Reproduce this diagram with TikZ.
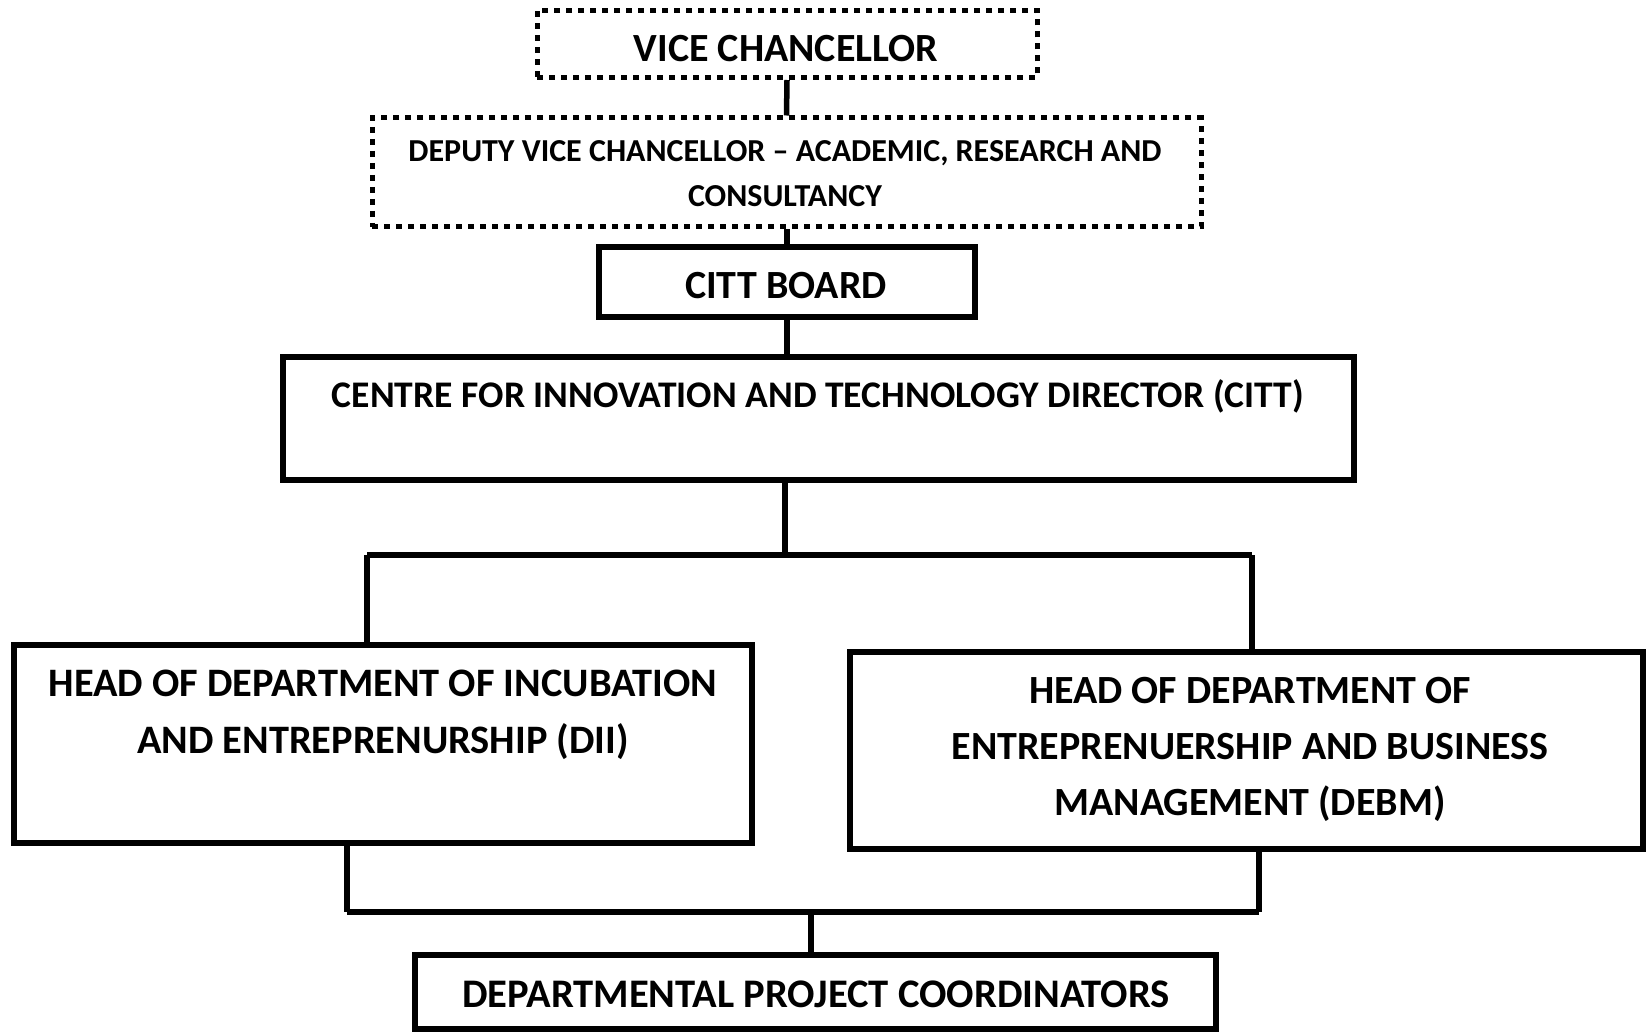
\documentclass[tikz,border=0pt]{standalone}
\usepackage{fontspec}
\setmainfont{Carlito}
\begin{document}
\begin{tikzpicture}[x=1pt,y=-1pt,
  box/.style={draw, line width=5.5pt, inner sep=0pt},
  dotbox/.style={draw, line width=5pt, dash pattern=on 6pt off 6pt, inner sep=0pt},
  lbl/.style={inner sep=0pt, align=center},
  big/.style={font={\bfseries\fontsize{40}{44}\selectfont}},
  small/.style={font={\bfseries\fontsize{32}{45}\selectfont}},
  link/.style={line width=5.5pt},
  bus/.style={line width=5.5pt}]
\useasboundingbox (0,0) rectangle (1646,1032);

% chain of command, top to bottom
\node[dotbox, minimum width=500pt, minimum height=67pt] (vc) at (787,44) {};
\node[lbl, big] (vc-text) at (786,48.5) {VICE CHANCELLOR};

\node[dotbox, minimum width=829pt, minimum height=109pt] (dvc) at (786.5,172.5) {};
\node[lbl, small] (dvc-text) at (785,174)
  {DEPUTY VICE CHANCELLOR – ACADEMIC, RESEARCH AND\\CONSULTANCY};

\node[box, minimum width=376pt, minimum height=70pt] (board) at (787,282) {};
\node[lbl, big] (board-text) at (786,286) {CITT BOARD};

\node[box, minimum width=1071pt, minimum height=123pt] (dir) at (818.5,418.5) {};
\node[lbl, font={\bfseries\fontsize{37.6}{40}\selectfont}] (dir-text) at (818,396)
  {CENTRE FOR INNOVATION AND TECHNOLOGY DIRECTOR (CITT)};

% departments
\node[box, minimum width=738pt, minimum height=198pt] (dii) at (383,744) {};
\node[lbl, font={\bfseries\fontsize{40.4}{57}\selectfont}] (dii-text) at (383,715)
  {HEAD OF DEPARTMENT OF INCUBATION\\AND ENTREPRENURSHIP (DII)};

\node[box, minimum width=793pt, minimum height=197pt] (debm) at (1246.5,750.5) {};
\node[lbl, font={\bfseries\fontsize{40}{56}\selectfont}] (debm-text) at (1250,749)
  {HEAD OF DEPARTMENT OF\\ENTREPRENUERSHIP AND BUSINESS\\MANAGEMENT (DEBM)};

\node[box, minimum width=801pt, minimum height=74pt] (dpc) at (815.5,992) {};
\node[lbl, font={\bfseries\fontsize{40.6}{44}\selectfont}] (dpc-text) at (816,994)
  {DEPARTMENTAL PROJECT COORDINATORS};

% junction points of the two buses
\coordinate (top-mid) at (785,555);
\coordinate (top-left) at (367,555);
\coordinate (top-right) at (1252,555);
\coordinate (bot-left) at (347,912);
\coordinate (bot-right) at (1259,912);
\coordinate (bot-mid) at (811,912);

% connectors
\draw[link] (vc.south) -- (dvc.north);
\draw[link] (dvc.south -| board.north) -- (board.north);
\draw[link] (board.south) -- (board.south |- dir.north);
\draw[link] (dir.south -| top-mid) -- (top-mid);
\draw[bus] (top-left) -- (top-right);
\draw[link] (top-left) -- (top-left |- dii.north);
\draw[link] (top-right) -- (top-right |- debm.north);
\draw[link] (bot-left |- dii.south) -- (bot-left);
\draw[link] (bot-right |- debm.south) -- (bot-right);
\draw[bus] (bot-left) -- (bot-right);
\draw[link] (bot-mid) -- (bot-mid |- dpc.north);
\end{tikzpicture}
\end{document}
